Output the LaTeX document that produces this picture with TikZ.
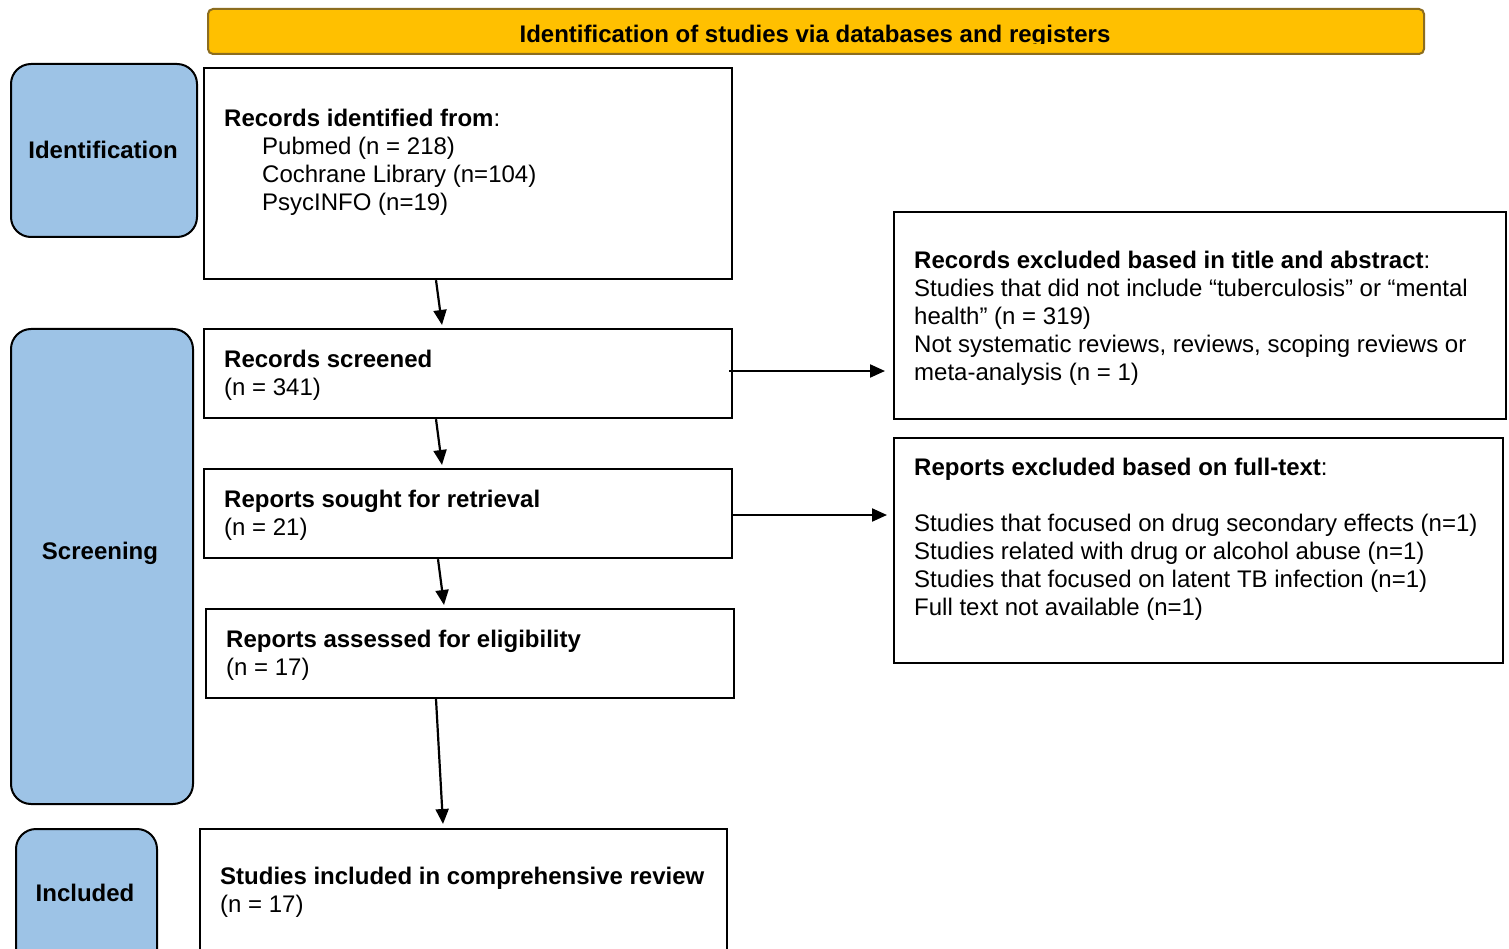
\documentclass[tikz,border=0pt]{standalone}
\usepackage{fontspec}
\setmainfont{Liberation Sans}
\usetikzlibrary{arrows.meta,calc}
\definecolor{stageblue}{HTML}{9DC3E6}
\definecolor{bannergold}{HTML}{FFC000}
\definecolor{bannerline}{HTML}{8C6D1F}
\begin{document}
\begin{tikzpicture}[x=1pt,y=-1pt,
  box/.style={draw=black,line width=2.2pt,anchor=north west,inner sep=0pt},
  stagebox/.style={draw=black,line width=2pt,fill=stageblue,rounded corners=20pt,anchor=north west,inner sep=0pt},
  txt/.style={anchor=north west,inner sep=0pt,align=left,font=\fontsize{24}{28}\selectfont},
  stagetxt/.style={inner sep=0pt,font=\fontsize{24}{28}\selectfont\bfseries},
  arr/.style={line width=2.2pt,-{Triangle[length=15pt,width=13pt]}}]
\clip (0,0) rectangle (1509,949);
\fill[white] (0,0) rectangle (1509,949);
% banner
\node[draw=bannerline,line width=2pt,fill=bannergold,rounded corners=5pt,anchor=north west,inner sep=0pt,minimum width=1216pt,minimum height=45pt] (banner) at (207,8) {};
\begin{scope}
\clip (207,8) rectangle (1423,43.5);
\node[inner sep=0pt,anchor=base,font=\fontsize{24}{28}\selectfont\bfseries] (bannertxt) at (815,42.5) {Identification of studies via databases and registers};
\end{scope}
% stage boxes
\node[stagebox,minimum width=186pt,minimum height=173pt] (sid) at (10,63) {};
\node[stagebox,minimum width=182pt,minimum height=475pt] (sscr) at (10,328) {};
\node[stagebox,minimum width=141pt,minimum height=150pt] (sinc) at (15,828) {};
\node[stagetxt] (sidt) at (103,150) {Identification};
\node[stagetxt] (sscrt) at (100,553) {Screening};
\node[stagetxt] (sinct) at (85,893) {Included};
% main boxes
\node[box,minimum width=528pt,minimum height=211pt] (b1) at (203,67) {};
\node[box,minimum width=528pt,minimum height=89pt] (b2) at (203,328) {};
\node[box,minimum width=528pt,minimum height=89pt] (b3) at (203,468) {};
\node[box,minimum width=528pt,minimum height=89pt] (b4) at (205,608) {};
\node[box,minimum width=527pt,minimum height=150pt] (b5) at (199,828) {};
\node[box,minimum width=612pt,minimum height=207pt] (r1) at (893,211) {};
\node[box,minimum width=609pt,minimum height=225pt] (r2) at (893,437) {};
% texts
\node[txt] (b1t) at (224,109) {\textbf{Records identified from}:\\
\hspace*{38pt}Pubmed (n = 218)\\
\hspace*{38pt}Cochrane Library (n=104)\\
\hspace*{38pt}PsycINFO (n=19)};
\node[txt] (b2t) at (224,350) {\textbf{Records screened}\\(n = 341)};
\node[txt] (b3t) at (224,490) {\textbf{Reports sought for retrieval}\\(n = 21)};
\node[txt] (b4t) at (226,630) {\textbf{Reports assessed for eligibility}\\(n = 17)};
\node[txt] (b5t) at (220,867) {\textbf{Studies included in comprehensive review}\\(n = 17)};
\node[txt] (r1t) at (914,251) {\textbf{Records excluded based in title and abstract}:\\
Studies that did not include “tuberculosis” or “mental\\
health” (n = 319)\\
Not systematic reviews, reviews, scoping reviews or\\
meta-analysis (n = 1)};
\node[txt] (r2t) at (914,458) {\textbf{Reports excluded based on full-text}:\\[28pt]
Studies that focused on drug secondary effects (n=1)\\
Studies related with drug or alcohol abuse (n=1)\\
Studies that focused on latent TB infection (n=1)\\
Full text not available (n=1)};
% arrows
\draw[arr] ($(b1.south west)+(233,0)$) -- ($(b2.north west)+(239,-3)$);
\draw[arr] ($(b2.south west)+(233,0)$) -- ($(b3.north west)+(239,-3)$);
\draw[arr] ($(b3.south west)+(235,0)$) -- ($(b4.north west)+(239,-3)$);
\draw[arr] ($(b4.south west)+(231,0)$) -- ($(b5.north west)+(244,-4)$);
\draw[arr] ($(b2.north east)+(-4,43)$) -- ($(r1.north west)+(-8,160)$);
\draw[arr] ($(b3.north east)+(0,47)$) -- ($(r2.north west)+(-6,78)$);
\end{tikzpicture}
\end{document}
